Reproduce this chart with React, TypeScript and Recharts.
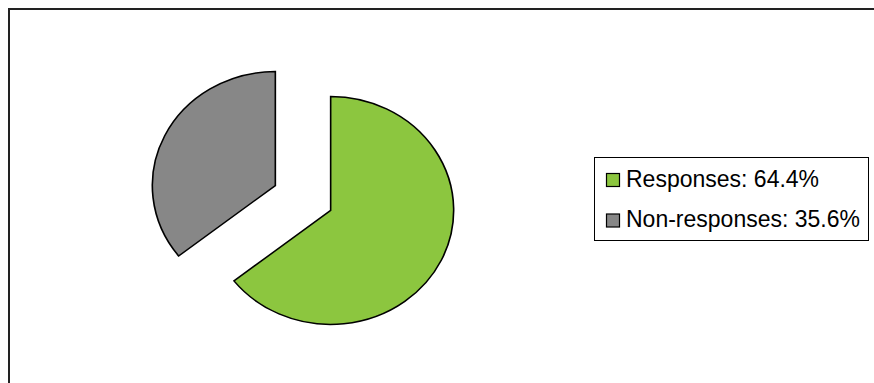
import React from 'react';
import { PieChart, Pie, Cell, Legend, Sector } from 'recharts';

const categories = ['Responses', 'Non-responses'];
const shares = [64.4, 35.6];
const colors = ['#8CC63F', '#878787'];

const data = categories.map((name, i) => ({ name, value: shares[i] }));

const SX = 1.079;
const EXPLODE = 28.5;

const ExplodedSector = (props: any) => {
  const { cx, cy, midAngle } = props;
  const r = (midAngle * Math.PI) / 180;
  const ox = EXPLODE * Math.cos(r) * SX;
  const oy = -EXPLODE * Math.sin(r);
  return (
    <g transform={`translate(${cx + ox},${cy + oy}) scale(${SX},1) translate(${-cx},${-cy})`}>
      <Sector {...props} />
    </g>
  );
};

const LegendBox = (props: any) => {
  const payload = props.payload || [];
  return (
    <svg width={276} height={85} style={{ display: 'block' }}>
      <rect x={0.5} y={0.5} width={274} height={83} fill="#fff" stroke="#000" strokeWidth={1} />
      {payload.map((entry: any, i: number) => {
        const idx = categories.indexOf(entry.value);
        const k = idx >= 0 ? idx : i;
        const sy = 16.5 + k * 40.5;
        return (
          <g key={k}>
            <rect x={12.5} y={sy} width={13} height={13} fill={colors[k]} stroke="#000" strokeWidth={1.2} />
            <text
              x={32}
              y={29.7 + k * 40.6}
              fontFamily="'Liberation Sans', Arial, sans-serif"
              fontSize={23}
              fill="#000"
            >
              {`${categories[k]}: ${shares[k].toFixed(1)}%`}
            </text>
          </g>
        );
      })}
    </svg>
  );
};

export default function App() {
  return (
    <div
      style={{
        position: 'fixed',
        left: 0,
        top: 0,
        width: 874,
        height: 383,
        overflow: 'hidden',
        background: '#fff',
      }}
    >
      <div
        style={{
          position: 'absolute',
          left: 8,
          top: 8,
          width: 900,
          height: 400,
          borderLeft: '2px solid #222',
          borderTop: '2px solid #222',
        }}
      />
      <div style={{ position: 'absolute', left: 0, top: 0 }}>
        <PieChart width={874} height={383} margin={{ top: 0, right: 0, bottom: 0, left: 0 }}>
          <Pie
            data={data}
            dataKey="value"
            nameKey="name"
            cx={303}
            cy={198}
            outerRadius={114}
            startAngle={90}
            endAngle={-270}
            stroke="#000"
            strokeWidth={1.5}
            shape={ExplodedSector}
            activeShape={ExplodedSector}
            inactiveShape={ExplodedSector}
            isAnimationActive={false}
            legendType="square"
          >
            {data.map((d, i) => (
              <Cell key={d.name} fill={colors[i]} />
            ))}
          </Pie>
          <Legend
            content={LegendBox}
            layout="vertical"
            align="right"
            verticalAlign="top"
            wrapperStyle={{ position: 'absolute', left: 594, top: 157, width: 276, height: 85 }}
          />
        </PieChart>
      </div>
    </div>
  );
}
